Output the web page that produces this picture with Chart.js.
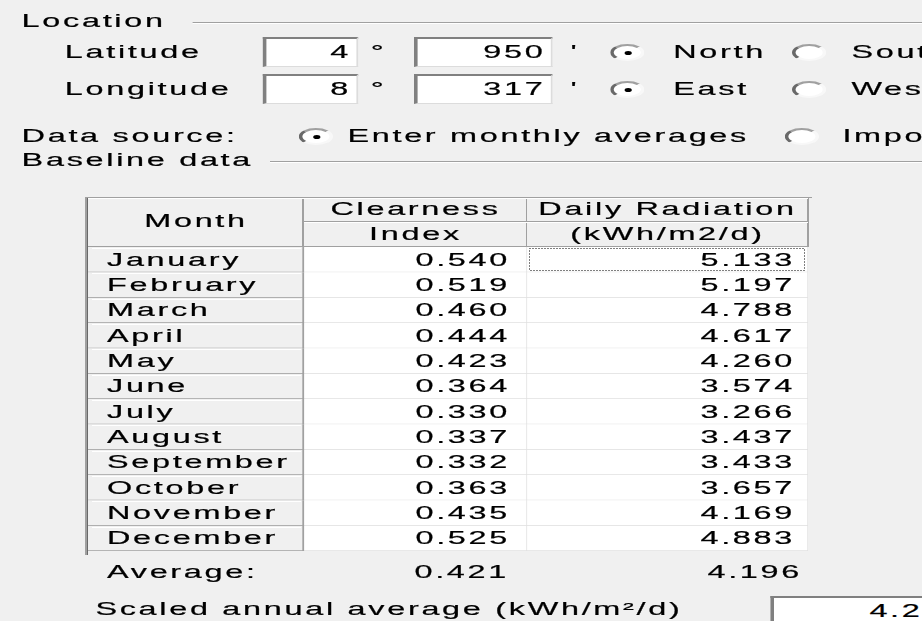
<!DOCTYPE html>
<html>
<head>
<meta charset="utf-8">
<script src="https://cdn.jsdelivr.net/npm/chart.js@4.4.1/dist/chart.umd.min.js"></script>
<style>
  html, body { margin:0; padding:0; background:#f0f0f0; overflow:hidden; width:922px; height:621px; }
  #stage { position:absolute; left:0; top:0; width:513px; height:621px; transform:scaleX(1.8); transform-origin:0 0;
           font-family:"Liberation Sans", Arial, sans-serif; font-size:18px; letter-spacing:1.5px; color:#000;
           -webkit-text-stroke:0.2px #000; }
  .t { position:absolute; line-height:20px; white-space:nowrap; }
  .line { position:absolute; height:0; border-top:1px solid #a0a0a0; border-bottom:1px solid #fff; }
  .box { position:absolute; background:#fff; box-sizing:border-box; border-style:solid; border-width:2px 1px 1px 2px;
         border-color:#808080 #dcdcdc #dcdcdc #808080; text-align:right; line-height:26px; padding-right:3px; white-space:nowrap; }
  .radio { position:absolute; width:19px; height:17px; box-sizing:border-box; border-radius:50%; background:#fff;
           border:2px solid; border-color:#a0a0a0 #f8f8f8 #f8f8f8 #696969; }
  .radio.on::after { content:''; position:absolute; left:5.5px; top:4.5px; width:4px; height:4px; border-radius:50%; background:#000; }
  #table { position:absolute; left:85px; top:197px; }
</style>
</head>
<body>
<div id="stage">
  <div class="t" style="left:12px;top:11px">Location</div>
  <div class="line" style="left:107px;top:22px;width:420px"></div>

  <div class="t" style="left:36px;top:42px">Latitude</div>
  <div class="box" style="left:146px;top:37px;width:53px;height:30px">4</div>
  <div class="t" style="left:206px;top:42px">°</div>
  <div class="box" style="left:230px;top:37px;width:77px;height:30px">950</div>
  <div class="t" style="left:317px;top:42px">'</div>
  <div class="radio on" style="left:339px;top:44px"></div>
  <div class="t" style="left:374px;top:42px">North</div>
  <div class="radio" style="left:440px;top:44px"></div>
  <div class="t" style="left:473px;top:42px">South</div>

  <div class="t" style="left:36px;top:79px">Longitude</div>
  <div class="box" style="left:146px;top:74px;width:53px;height:30px">8</div>
  <div class="t" style="left:206px;top:79px">°</div>
  <div class="box" style="left:230px;top:74px;width:77px;height:30px">317</div>
  <div class="t" style="left:317px;top:79px">'</div>
  <div class="radio on" style="left:339px;top:81px"></div>
  <div class="t" style="left:374px;top:79px">East</div>
  <div class="radio" style="left:440px;top:81px"></div>
  <div class="t" style="left:473px;top:79px">West</div>

  <div class="t" style="left:12px;top:126px">Data source:</div>
  <div class="radio on" style="left:166px;top:128px"></div>
  <div class="t" style="left:193px;top:126px">Enter monthly averages</div>
  <div class="radio" style="left:436px;top:128px"></div>
  <div class="t" style="left:468px;top:126px">Import time series</div>

  <div class="t" style="left:12px;top:150px">Baseline data</div>
  <div class="line" style="left:150px;top:161px;width:370px"></div>

  <div class="t" style="left:53px;top:599px">Scaled annual average (kWh/m²/d)</div>
  <div class="box" style="left:428px;top:596px;width:120px;height:30px;text-align:left;padding-left:53px">4.2</div>
</div>

<canvas id="table" width="730" height="390"></canvas>

<script>
//-----------------Baseline data (read from the dialog)
const months = ['January', 'February', 'March', 'April', 'May', 'June',
                'July', 'August', 'September', 'October', 'November', 'December']
const clearnessIndex = [0.540, 0.519, 0.460, 0.444, 0.423, 0.364, 0.330, 0.337, 0.332, 0.363, 0.435, 0.525]
const dailyRadiation = [5.133, 5.197, 4.788, 4.617, 4.260, 3.574, 3.266, 3.437, 3.433, 3.657, 4.169, 4.883]
const averageClearness = 0.421
const averageRadiation = 4.196
const headMonth = 'Month'
const headClearness = ['Clearness', 'Index']
const headRadiation = ['Daily Radiation', '(kWh/m2/d)']

//-----------------Layout
const SX = 1.8                     // the dialog is stretched horizontally
const COLS = [0, 216, 439, 720]    // column edges on the x scale
const HEAD = 50                    // two header rows
const FONT = '18px "Liberation Sans", Arial, sans-serif'

function stretchText(ctx, str, x, y, align){
    ctx.save()
    ctx.translate(x, y)
    ctx.scale(SX, 1)
    ctx.font = FONT
    ctx.letterSpacing = '1.5px'
    ctx.fillStyle = '#000'
    ctx.strokeStyle = '#000'
    ctx.lineWidth = 0.2
    ctx.textAlign = align
    ctx.textBaseline = 'middle'
    ctx.fillText(str, 0, 0)
    ctx.strokeText(str, 0, 0)
    ctx.restore()
}

// header cells, borders and cell texts
const tablePlugin = {
    id: 'tablePlugin',
    beforeDatasetsDraw(chart){
        const ctx = chart.ctx
        const a = chart.chartArea
        const px = COLS.map(v => chart.scales.x.getPixelForValue(v))
        const top = a.top - HEAD
        ctx.save()
        ctx.fillStyle = '#f0f0f0'
        ctx.fillRect(px[0], top, px[3] - px[0], HEAD)
        ctx.fillStyle = '#a0a0a0'
        ctx.fillRect(0, top, px[3] + 4, 1)                 //top border
        ctx.fillRect(px[1] - 2, top, 2, HEAD)
        ctx.fillRect(px[2] - 1, top, 1, HEAD)
        ctx.fillRect(px[3] - 1, top, 2, HEAD)
        ctx.fillRect(px[1], top + 24, px[3] - px[1], 1)
        ctx.fillRect(px[0], a.top - 1, px[3] - px[0], 1)
        ctx.fillStyle = '#ffffff'
        ctx.fillRect(px[0], top + 1, px[3] - px[0], 1)
        ctx.fillRect(px[1], top + 25, px[3] - px[1], 1)
        //left sunken border
        ctx.fillStyle = '#a0a0a0'
        ctx.fillRect(0, top, 2, a.bottom - top + 4)
        ctx.fillStyle = '#696969'
        ctx.fillRect(2, top + 1, 1, a.bottom - top + 3)
        ctx.restore()

        stretchText(ctx, headMonth, (px[0] + px[1]) / 2, top + 25, 'center')
        stretchText(ctx, headClearness[0], (px[1] + px[2]) / 2, top + 13, 'center')
        stretchText(ctx, headClearness[1], (px[1] + px[2]) / 2, top + 38, 'center')
        stretchText(ctx, headRadiation[0], (px[2] + px[3]) / 2, top + 13, 'center')
        stretchText(ctx, headRadiation[1], (px[2] + px[3]) / 2, top + 38, 'center')
    },
    afterDatasetsDraw(chart){
        const ctx = chart.ctx
        const a = chart.chartArea
        const px = COLS.map(v => chart.scales.x.getPixelForValue(v))
        //white highlight on the grey month cells
        ctx.save()
        ctx.fillStyle = '#ffffff'
        chart.getDatasetMeta(0).data.forEach(bar => {
            ctx.fillRect(bar.base + 4, Math.round(bar.y - bar.height / 2) + 1, bar.x - bar.base - 7, 1)
        })
        ctx.restore()
        chart.getDatasetMeta(0).data.forEach((bar, i) => {
            stretchText(ctx, months[i], bar.base + 19, bar.y + 1, 'left')
        })
        chart.getDatasetMeta(1).data.forEach((bar, i) => {
            stretchText(ctx, clearnessIndex[i].toFixed(3), bar.x - 17, bar.y + 1, 'right')
        })
        chart.getDatasetMeta(2).data.forEach((bar, i) => {
            stretchText(ctx, dailyRadiation[i].toFixed(3), bar.x - 13, bar.y + 1, 'right')
        })
        //focus rectangle on the first radiation cell
        const f = chart.getDatasetMeta(2).data[0]
        ctx.save()
        ctx.strokeStyle = '#000'
        ctx.lineWidth = 1
        ctx.setLineDash([1, 2])
        ctx.strokeRect(Math.round(f.base) + 2.5, Math.round(f.y - f.height / 2) + 1.5,
                       Math.round(f.x - f.base) - 6, Math.round(f.height) - 3)
        ctx.restore()
        //average row
        const ay = a.bottom + 22
        stretchText(ctx, 'Average:', px[0] + 19, ay, 'left')
        stretchText(ctx, averageClearness.toFixed(3), px[2] - 18, ay, 'right')
        stretchText(ctx, averageRadiation.toFixed(3), px[3] - 6, ay, 'right')
    }
}

function cells(values, c0, c1){
    return values.map(() => [COLS[c0], COLS[c1]])
}

const ctx = document.getElementById('table').getContext('2d')
TableChart = new Chart(ctx, {
    type: 'bar',
    data: {
      labels: months,
      datasets: [{
        label: headMonth,
        data: cells(months, 0, 1),
        backgroundColor: '#f0f0f0',
        borderColor: '#a0a0a0',
        borderWidth: {top: 0, left: 0, right: 2, bottom: 1}
      }, {
        label: headClearness.join(' '),
        data: cells(clearnessIndex, 1, 2),
        backgroundColor: '#ffffff',
        borderColor: '#e0e0e0',
        borderWidth: {top: 0, left: 0, right: 1, bottom: 1}
      }, {
        label: headRadiation.join(' '),
        data: cells(dailyRadiation, 2, 3),
        backgroundColor: '#ffffff',
        borderColor: '#e0e0e0',
        borderWidth: {top: 0, left: 0, right: 1, bottom: 1}
      }]
    },
    options: {
      indexAxis: 'y',
      responsive: false,
      animation: false,
      events: [],
      layout: { padding: {top: HEAD, bottom: 36, left: 3, right: 7} },
      datasets: { bar: { grouped: false, barPercentage: 1, categoryPercentage: 1, borderSkipped: false } },
      plugins: {
        legend: { display: false },
        tooltip: { enabled: false }
      },
      scales: {
        x: { type: 'linear', min: 0, max: 720, display: false },
        y: { display: false }
      }
    },
    plugins: [tablePlugin]
})
</script>
</body>
</html>
